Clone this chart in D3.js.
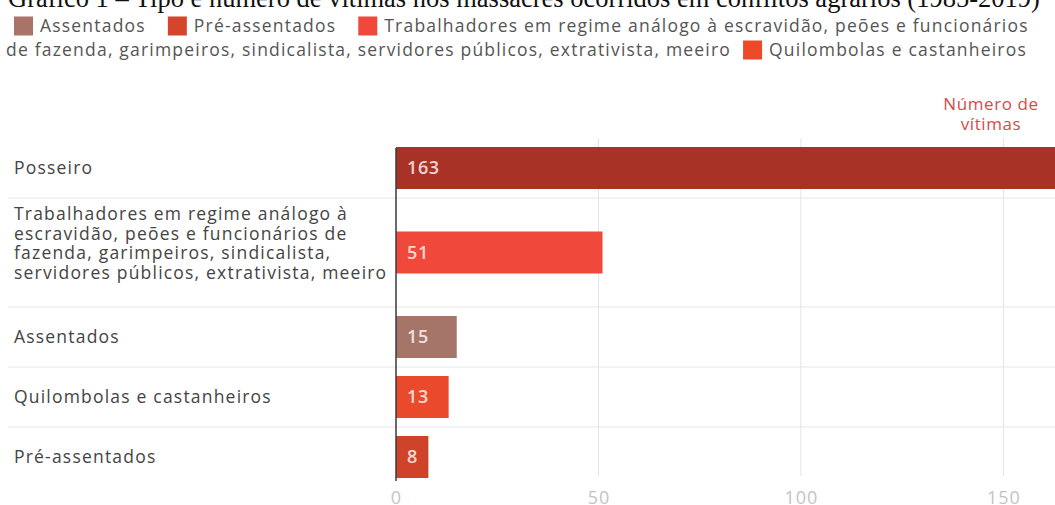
<!DOCTYPE html>
<html>
<head>
<meta charset="utf-8">
<script src="https://cdn.jsdelivr.net/npm/d3@7"></script>
<style>
  body { margin: 0; background: #fff; }
  svg { display: block; }
</style>
</head>
<body>
<div id="chart"></div>
<script>
// data
const categories = ["Posseiro", "Trabalhadores em regime análogo à escravidão, peões e funcionários de fazenda, garimpeiros, sindicalista, servidores públicos, extrativista, meeiro", "Assentados", "Quilombolas e castanheiros", "Pré-assentados"];
const categoryLines = [
    ["Posseiro"],
    ["Trabalhadores em regime análogo à", "escravidão, peões e funcionários de", "fazenda, garimpeiros, sindicalista,", "servidores públicos, extrativista, meeiro"],
    ["Assentados"],
    ["Quilombolas e castanheiros"],
    ["Pré-assentados"]
];
const values = [163, 51, 15, 13, 8];
const barColors = ["#a93226", "#f0483a", "#a6756a", "#ea4a2c", "#d0432b"];
const ticks = [0, 50, 100, 150];

const legendNames = ["Assentados", "Pré-assentados", "Trabalhadores em regime análogo à escravidão, peões e funcionários de fazenda, garimpeiros, sindicalista, servidores públicos, extrativista, meeiro", "Quilombolas e castanheiros"];
const legendColors = ["#a87468", "#d4452b", "#f0483a", "#ee4a2a"];

const title = "Gráfico 1 – Tipo e número de vítimas nos massacres ocorridos em conflitos agrários (1985-2019)";

const width = 1055;
const height = 505;
const font = "'Open Sans', Roboto, sans-serif";
const fs = 17.5;
const ls = '1.2px';

const svg = d3.select('#chart')
    .append('svg')
    .attr('width', width)
    .attr('height', height)
    .attr('viewBox', [0, 0, width, height]);

// title, clipped at the top like the scan
svg.append('text')
    .attr('x', 8)
    .attr('y', 7)
    .attr('font-family', "'Liberation Serif', 'Times New Roman', serif")
    .attr('font-size', 26.5)
    .attr('fill', '#111')
    .text(title);

// legend, two lines, the long label wraps
const legend = svg.append('g')
    .attr('font-family', font)
    .attr('font-size', fs)
    .attr('letter-spacing', ls)
    .attr('fill', '#555');
const sw = 19;
let lx = 14, ly = 26;
function swatch(x, y, c) {
    legend.append('rect').attr('x', x).attr('y', y - sw / 2).attr('width', sw).attr('height', sw).attr('fill', c);
}
function word(x, y, t) {
    const el = legend.append('text').attr('x', x).attr('y', y).attr('dy', '0.35em').text(t);
    return el.node().getComputedTextLength();
}
legendNames.forEach((name, i) => {
    if (i == 3) return;
    swatch(lx, ly, legendColors[i]);
    if (i == 2) {
        word(lx + sw + 7, ly, "Trabalhadores em regime análogo à escravidão, peões e funcionários");
        // continues on line 2
        ly = 50;
        const w = word(6, ly, "de fazenda, garimpeiros, sindicalista, servidores públicos, extrativista, meeiro");
        lx = 6 + w + 12;
    } else {
        const w = word(lx + sw + 7, ly, name);
        lx = lx + sw + 7 + w + 22;
    }
});
swatch(lx, ly, legendColors[3]);
word(lx + sw + 7, ly, legendNames[3]);

// scales
const x = d3.scaleLinear()
    .domain([0, 163])
    .range([396, 1056]);

const rowH = categoryLines.map(l => l.length == 1 ? 60 : l.length * 19.5 + 31);
const chartTop = 138;
const rowTop = rowH.map((h, i) => chartTop + d3.sum(rowH.slice(0, i)));
const y = d3.scaleOrdinal().domain(categories).range(rowTop.map((t, i) => t + rowH[i] / 2));
const barH = 42;

// row separators
svg.append('g')
    .selectAll('line')
    .data(rowTop.slice(1))
    .join('line')
        .attr('x1', 8).attr('x2', width)
        .attr('y1', d => d).attr('y2', d => d)
        .attr('stroke', '#e6e6e6');

// vertical gridlines
svg.append('g')
    .selectAll('line')
    .data(ticks.slice(1))
    .join('line')
        .attr('x1', d => x(d)).attr('x2', d => x(d))
        .attr('y1', chartTop).attr('y2', 476)
        .attr('stroke', '#e4e4e4');

// bars
svg.append('g')
    .selectAll('rect')
    .data(values)
    .join('rect')
        .attr('x', x(0))
        .attr('y', (d, i) => y(categories[i]) - barH / 2)
        .attr('width', d => x(d) - x(0))
        .attr('height', barH)
        .attr('fill', (d, i) => barColors[i]);

// value labels
svg.append('g')
    .attr('font-family', font)
    .attr('font-size', 18)
    .attr('letter-spacing', '0.6px')
    .attr('font-weight', 600)
    .attr('fill', 'rgba(255,255,255,0.8)')
    .selectAll('text')
    .data(values)
    .join('text')
        .attr('x', x(0) + 11)
        .attr('y', (d, i) => y(categories[i]))
        .attr('dy', '0.36em')
        .text(d => d);

// category labels
const lab = svg.append('g')
    .attr('font-family', font)
    .attr('font-size', fs)
    .attr('letter-spacing', ls)
    .attr('fill', '#444')
    .selectAll('text')
    .data(categoryLines)
    .join('text')
        .attr('x', 14)
        .attr('y', (d, i) => y(categories[i]) - (d.length - 1) * 19.5 / 2 - (d.length > 1 ? 9 : 0));
lab.selectAll('tspan')
    .data(d => d)
    .join('tspan')
        .attr('x', 14)
        .attr('dy', (d, j) => j == 0 ? '0.35em' : 19.5)
        .text(d => d);

// zero axis line
svg.append('line')
    .attr('x1', x(0)).attr('x2', x(0))
    .attr('y1', 148).attr('y2', 481)
    .attr('stroke', '#3a3a3a')
    .attr('stroke-width', 1.5);

// x axis labels
function xAxis(g) {
    g.attr('transform', `translate(0, 487)`)
        .call(d3.axisBottom(x).tickValues(ticks).tickSize(0).tickPadding(4))
        .attr('font-family', font)
        .attr('font-size', 18)
        .attr('letter-spacing', '1px')
        .call(g => g.select('.domain').remove())
        .call(g => g.selectAll('text').attr('fill', '#c4c4c4'));
}
svg.append('g').call(xAxis);

// axis title
svg.append('text')
    .attr('x', 991)
    .attr('y', 104)
    .attr('text-anchor', 'middle')
    .attr('font-family', font)
    .attr('font-size', 17)
    .attr('letter-spacing', '0.6px')
    .attr('fill', '#d64a4a')
    .selectAll('tspan')
    .data(["Número de", "vítimas"])
    .join('tspan')
        .attr('x', 991)
        .attr('dy', (d, i) => i == 0 ? '0.35em' : 20)
        .text(d => d);
</script>
</body>
</html>
